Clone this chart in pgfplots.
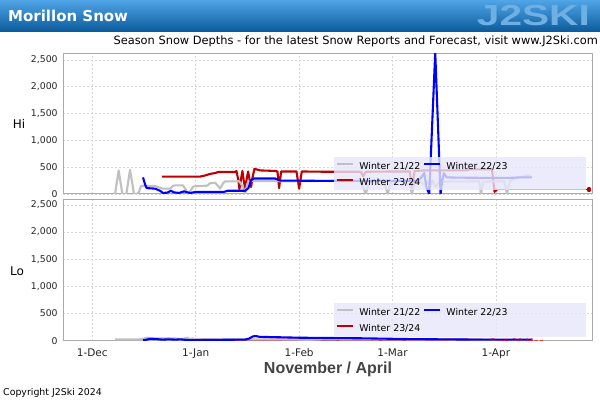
\documentclass[border=0pt]{standalone}
\usepackage{fontspec}
\setmainfont{DejaVu Sans}
\newfontfamily\lib{Liberation Sans}
\usepackage{pgfplots}
\pgfplotsset{compat=1.18}

\definecolor{gr}{RGB}{192,192,192}
\definecolor{bl}{RGB}{0,0,255}
\definecolor{rd}{RGB}{190,0,0}
\definecolor{lav}{RGB}{230,230,250}
\definecolor{axgray}{RGB}{170,170,170}
\definecolor{gridgray}{RGB}{215,215,215}
\definecolor{hdtop}{RGB}{80,165,230}
\definecolor{hdbot}{RGB}{10,90,155}
\definecolor{logo}{RGB}{110,175,228}
\definecolor{xlab}{RGB}{68,68,68}

\pgfplotsset{
 snow/.style={
  scale only axis, width=528.7bp,
  xmin=21.3, xmax=179.8, ymin=0,
  axis line style={axgray, line width=1bp},
  grid=major, grid style={gridgray, dash pattern=on 2bp off 2bp, line width=0.6bp},
  major tick length=0pt,
  xtick={30,61,92,120,151},
  ytick={0,500,1000,1500,2000,2500},
  /pgf/number format/assume math mode=true,
  /pgf/number format/1000 sep={,},
  yticklabel style={font=\fontsize{9.3bp}{10bp}\selectfont, text=black!85, inner sep=0pt, xshift=-5.5bp},
  every axis plot/.append style={line width=2.1bp, line join=round},
  legend columns=2,
  legend cell align=left,
  legend style={draw=none, fill=none, inner sep=0pt, row sep=7bp,
    font=\fontsize{9.4bp}{10bp}\selectfont,
    nodes={inner sep=0pt, text height=7bp, text depth=2bp},
    /tikz/every even column/.append style={column sep=3bp},
    /tikz/every odd column/.append style={column sep=5bp}},
  legend image code/.code={\draw[##1] (0bp,3bp) -- (16bp,3bp);},
 }
}

\begin{document}
\begin{tikzpicture}
\path[use as bounding box, fill=white] (0,0) rectangle (600bp,400bp);
\shade[top color=hdtop, bottom color=hdbot] (0,368bp) rectangle (600bp,400bp);
\node[anchor=west, text=white, inner sep=0pt] at (8bp,384bp) {\fontsize{15bp}{16bp}\selectfont\bfseries Morillon Snow};
\node[anchor=east, text=logo, inner sep=0pt] at (590bp,384bp) {\scalebox{1.4}[1]{\fontsize{29bp}{30bp}\selectfont\lib\bfseries J2SKI}};
\node[anchor=east, inner sep=0pt] at (598bp,359bp) {\fontsize{11.4bp}{12bp}\selectfont Season Snow Depths - for the latest Snow Reports and Forecast, visit www.J2Ski.com};

% ---------- Hi ----------
\begin{axis}[snow, at={(63.3bp,206bp)}, anchor=south west, height=140bp, ymax=2612,
  xticklabels={},
  legend style={at={(rel axis cs:0.5158,0.227)}, anchor=north west}]
\addplot[rd, forget plot] coordinates {(50.9,325)(62.3,325)(63.8,345)(65.3,375)(66.8,390)(67.7,410)(72.8,410)(73.2,430)(73.8,250)(74.1,90)(74.5,250)(75.0,430)(75.4,250)(75.8,110)(76.2,250)(76.7,420)(77.2,250)(77.6,130)(78.0,300)(78.6,470)(80.3,440)(84.8,430)(85.5,420)(86.0,110)(86.6,420)(91.2,420)(92.0,100)(92.8,420)(100,415)(110.5,415)(111.2,330)(112,415)(120,420)(125.2,420)(125.8,90)(126.6,430)(130,440)(142.3,440)(143,460)(149.8,460)(150.6,40)(151.3,80)};
\addplot[rd, line width=0.8bp, forget plot] coordinates {(151.3,80)(178.3,80)};
\addplot[rd, only marks, mark=square*, mark size=1.2bp, forget plot] coordinates {(178.9,80)};
\addplot[gr, forget plot] coordinates {(36.8,0)(37.9,440)(39.0,0)(40.2,0)(41.3,450)(42.5,0)(43.4,0)(44.0,40)(44.6,150)(46.5,150)(48.8,150)(50.3,115)(51.2,100)(53.3,100)(54.2,150)(54.8,160)(57.2,160)(58.0,80)(58.7,0)(59.4,60)(60.3,140)(62.3,150)(64.4,155)(65.3,200)(66.8,210)(67.7,150)(68.3,100)(69.2,200)(69.8,235)(72.8,235)(74.0,240)(75.1,140)(75.8,0)(76.5,200)(77.5,240)(80,240)(85,240)(90,235)(92,240)(100,245)(105,250)(110.3,245)(111.2,120)(112,0)(112.8,200)(114,240)(117.5,240)(118.5,0)(119.5,220)(122,240)(125,230)(125.8,0)(126.6,220)(128.5,230)(129.5,170)(130.3,240)(131.2,120)(132,260)(133,130)(134.2,240)(135.1,230)(140,230)(146,235)(146.5,0)(147.2,230)(153.5,240)(154.3,0)(155.2,250)(157,290)(159,320)(160.5,350)(161.8,310)};
\addplot[bl, forget plot] coordinates {(45.2,310)(45.8,180)(46.3,110)(48.8,100)(50.3,60)(51.2,20)(52.5,25)(53.5,60)(54.5,30)(56,20)(57.5,50)(58.5,30)(59.5,20)(61,40)(66.8,40)(69.5,40)(70.5,60)(75.8,60)(76.8,110)(77.6,260)(78.5,290)(84.8,290)(86.3,250)(100,245)(110,245)(120,245)(127.5,245)(128.5,300)(129.5,390)(130.2,120)(131.0,0)(132.8,2640)(134.4,0)(134.9,250)(135.4,390)(136.2,310)(140,305)(150,300)(155,300)(158,310)(161.8,310)};
\fill[lav, fill opacity=0.8] (rel axis cs:0.512,0.0286) rectangle (rel axis cs:0.989,0.264);
\addlegendimage{gr, line width=2.1bp}\addlegendentry{Winter 21/22}
\addlegendimage{bl, line width=2.1bp}\addlegendentry{Winter 22/23}
\addlegendimage{rd, line width=2.1bp}\addlegendentry{Winter 23/24}
\end{axis}

% ---------- Lo ----------
\begin{axis}[snow, at={(63.3bp,59.3bp)}, anchor=south west, height=140.7bp, ymax=2590,
  xticklabels={1-Dec,1-Jan,1-Feb,1-Mar,1-Apr},
  xticklabel style={font=\fontsize{10.5bp}{11bp}\selectfont, text=black!85, inner sep=0pt, yshift=-8bp},
  legend style={at={(rel axis cs:0.5158,0.232)}, anchor=north west}]
\addplot[rd, forget plot] coordinates {(59,15)(62,20)(70,15)(80,15)(90,20)(95,30)(100,20)(110,15)(120,20)(130,15)(140,20)(150,15)};
\addplot[gr, forget plot] coordinates {(36.8,25)(44,25)(45.5,40)(46.5,55)(48,45)(50,40)(53,45)(55,40)(57,30)(58.5,55)(59.2,25)(60,45)(61,25)(70,25)(80,20)(92,20)(100,25)(110,20)(120,25)(130,20)(140,20)(150,15)(161.8,15)};
\addplot[bl, forget plot] coordinates {(45.2,10)(46,15)(47.3,35)(49,30)(51,20)(53,25)(55,20)(56.5,25)(58,15)(59.3,10)(61,10)(66,15)(75.8,20)(77,40)(78.2,80)(79,85)(80.3,70)(84.8,65)(92,55)(100,50)(110,45)(115,40)(125,30)(135,25)(145,20)(161.8,20)};
\node[anchor=north west, text=red, inner sep=0pt, font=\fontsize{9bp}{10bp}\selectfont] at (axis cs:149.3,45) {Fcst 30 Mar};
\fill[lav, fill opacity=0.8] (rel axis cs:0.512,0.026) rectangle (rel axis cs:0.989,0.268);
\addlegendimage{gr, line width=2.1bp}\addlegendentry{Winter 21/22}
\addlegendimage{bl, line width=2.1bp}\addlegendentry{Winter 22/23}
\addlegendimage{rd, line width=2.1bp}\addlegendentry{Winter 23/24}
\end{axis}

\node[inner sep=0pt] at (19bp,276bp) {\fontsize{12bp}{13bp}\selectfont Hi};
\node[inner sep=0pt] at (17bp,129bp) {\fontsize{12bp}{13bp}\selectfont Lo};
\node[inner sep=0pt, text=xlab] at (328bp,31bp) {\fontsize{16bp}{17bp}\selectfont\lib\bfseries November / April};
\node[anchor=west, inner sep=0pt] at (3bp,7bp) {\fontsize{9.4bp}{10bp}\selectfont Copyright J2Ski 2024};
\end{tikzpicture}
\end{document}
